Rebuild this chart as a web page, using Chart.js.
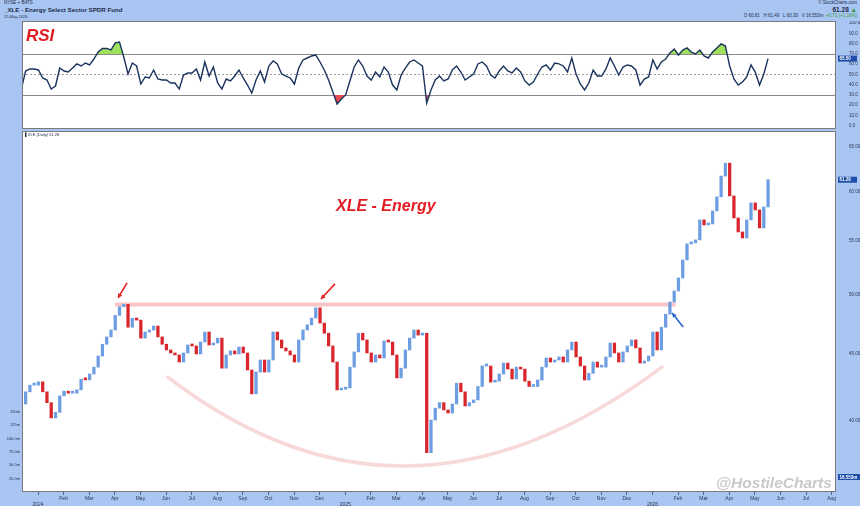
<!DOCTYPE html>
<html>
<head>
<meta charset="utf-8">
<script src="https://cdn.jsdelivr.net/npm/chart.js@4.4.1/dist/chart.umd.min.js"></script>
<style>
  html, body { margin: 0; padding: 0; }
  body { width: 860px; height: 506px; background: #a9c6f3; position: relative; overflow: hidden;
         font-family: "Liberation Sans", Arial, sans-serif; }
  canvas { position: absolute; left: 0; }
  #rsi { top: 21px; }
  #price { top: 131px; }
  .t { position: absolute; white-space: nowrap; color: #1d2b47; line-height: 1; }
  .note { position: absolute; white-space: nowrap; font-weight: bold; font-style: italic; line-height: 1; }
</style>
</head>
<body>
<div class="t" style="left:4px;top:1px;font-size:4.5px;">NYSE + BATS</div>
<div class="t" style="left:4px;top:7px;font-size:6.2px;font-weight:bold;">_XLE - Energy Select Sector SPDR Fund</div>
<div class="t" style="left:4px;top:14.5px;font-size:4px;">15-May-2026</div>
<div class="t" style="right:3px;top:1px;font-size:4.5px;">© StockCharts.com</div>
<div class="t" style="right:3px;top:6.5px;font-size:6.5px;font-weight:bold;">61.28 <span style="color:#2e9a3a">▲</span></div>
<div class="t" style="right:3px;top:14px;font-size:4.5px;">O 60.81 &nbsp; H 61.49 &nbsp; L 60.30 &nbsp; V 16.553m &nbsp;<span style="color:#2e9a3a">+0.71 (+1.16%)</span></div>

<canvas id="rsi" width="860" height="108"></canvas>
<canvas id="price" width="860" height="375"></canvas>

<div class="note" style="left:26px;top:27px;font-size:17px;color:#e31b23;">RSI</div>
<div class="note" style="left:336px;top:198px;font-size:16px;color:#e31b23;">XLE - Energy</div>
<div class="note" style="left:716px;top:475px;font-size:15.5px;color:#c9c9c9;">@HostileCharts</div>
<div class="t" style="left:25px;top:133px;font-size:4px;">▌XLE (Daily) 61.28</div>
<div id="volLabels"></div>

<script>
// ---- data ----
// bar positions run in month units (0 = Jan 2024), one bar every 1/6 month
const barStart = -0.65;
const barStep = 1 / 6;

const closes = [
  41.2, 42.1, 42.6, 42.6, 42.85, 42.1, 41.3, 40.2, 40.6, 41.8,
  42.15, 42.0, 42.0, 42.25, 43.05, 43.0, 43.45, 43.98, 44.85, 45.8,
  46.4, 46.97, 48.2, 48.95, 49.15, 47.2, 47.95, 47.8, 46.3, 46.8,
  46.97, 47.3, 46.4, 45.8, 45.34, 45.1, 44.94, 44.38, 45.1, 45.74,
  45.66, 45.02, 45.98, 46.8, 45.74, 45.9, 46.3, 43.9, 44.94, 45.26,
  45.02, 45.58, 45.1, 43.76, 41.95, 43.6, 44.54, 43.6, 44.54, 46.8,
  46.15, 45.5, 45.26, 44.94, 44.38, 46.15, 46.97, 47.4, 47.97, 48.85,
  47.55, 46.7, 45.66, 44.38, 42.24, 42.3, 42.4, 43.98, 45.18, 46.7,
  46.15, 45.1, 44.38, 44.94, 44.7, 46.07, 45.98, 44.94, 43.15, 43.9,
  45.34, 46.3, 46.97, 46.55, 46.7, 37.8, 40.05, 40.9, 41.3, 40.77,
  40.55, 41.2, 42.75, 42.1, 41.06, 41.3, 41.5, 42.5, 44.07, 44.07,
  42.83, 42.9, 43.45, 44.3, 43.83, 43.07, 43.98, 43.83, 42.9, 42.5,
  42.5, 42.99, 43.98, 44.7, 44.38, 44.54, 44.78, 44.38, 45.34, 45.98,
  44.78, 44.07, 42.99, 43.5, 44.38, 43.98, 43.98, 44.78, 45.9, 45.1,
  44.38, 45.18, 45.66, 46.15, 45.5, 44.3, 44.46, 44.86, 46.8, 45.34,
  47.2, 48.3, 49.35, 50.33, 51.5, 53.17, 54.7, 54.8, 55.09, 57.07,
  56.57, 56.67, 57.99, 59.45, 61.68, 63.1, 59.55, 57.27, 55.87, 55.28,
  57.07, 58.82, 58.09, 56.27, 58.4, 61.28
];

const rsi = [
  35.8, 53.4, 55.4, 55.4, 54.4, 46.6, 44.6, 35.8, 38.8, 56.3,
  53.4, 52.4, 56.3, 60.3, 58.3, 61.2, 59.3, 65.1, 72.0, 75.4,
  75.4, 73.9, 80.8, 81.7, 67.1, 50.5, 61.2, 58.3, 40.7, 47.6,
  46.6, 54.4, 45.6, 44.6, 44.6, 41.7, 41.7, 35.8, 49.5, 51.5,
  51.5, 55.4, 44.6, 62.2, 48.5, 57.3, 41.7, 35.8, 45.6, 43.7,
  48.5, 54.4, 46.6, 39.7, 31.9, 44.6, 53.4, 42.7, 58.3, 63.2,
  60.3, 50.5, 48.5, 46.6, 40.7, 56.3, 64.2, 66.1, 68.1, 69.0,
  62.2, 54.4, 44.6, 32.9, 21.2, 26.1, 30.0, 43.7, 57.3, 64.2,
  58.3, 48.5, 44.6, 52.4, 47.6, 57.3, 52.4, 39.7, 34.9, 49.5,
  56.3, 62.2, 64.2, 61.2, 58.3, 22.2, 34.9, 44.6, 48.5, 43.7,
  45.6, 54.4, 58.3, 52.4, 44.6, 47.6, 50.5, 60.3, 62.2, 58.3,
  49.5, 46.6, 53.4, 58.3, 53.4, 51.5, 56.3, 52.4, 43.7, 39.7,
  42.7, 50.5, 57.3, 59.3, 54.4, 61.2, 60.3, 58.3, 52.4, 66.1,
  50.5, 40.7, 34.9, 41.7, 54.4, 48.5, 48.5, 55.4, 66.1, 58.3,
  49.5, 57.3, 59.3, 58.3, 54.4, 39.7, 45.6, 47.6, 64.2, 55.4,
  62.2, 65.1, 71.0, 74.9, 69.0, 73.9, 75.9, 71.9, 70.0, 73.9,
  68.1, 66.1, 71.9, 75.9, 79.8, 77.8, 58.3, 45.6, 39.7, 42.7,
  47.6, 59.3, 52.4, 39.7, 50.5, 65.5
];

const monthLabels = ['2024', 'Feb', 'Mar', 'Apr', 'May', 'Jun', 'Jul', 'Aug', 'Sep', 'Oct', 'Nov', 'Dec',
  '2025', 'Feb', 'Mar', 'Apr', 'May', 'Jun', 'Jul', 'Aug', 'Sep', 'Oct', 'Nov', 'Dec',
  '2026', 'Feb', 'Mar', 'Apr', 'May', 'Jun', 'Jul', 'Aug'];
const priceTicks = [40, 45, 50, 55, 60, 65];
const rsiTicks = [0, 10, 20, 30, 40, 50, 60, 70, 80, 90, 100];
const volumeLabels = ['150m', '125m', '100.0m', '75.0m', '50.0m', '25.0m'];
const lastVolume = '16.553m';

// annotation anchors, in (month, price)
const resistance = { from: 3.0, to: 24.9, price: 49.14 };
const cupArc = { start: [5.08, 43.2], ctrl: [14.34, 31.27], end: [24.375, 44.0] };
const redArrows = [[[3.48, 51.05], [3.125, 49.71]], [[11.6, 50.96], [11.05, 49.62]]];
const blueArrow = [[25.2, 47.22], [24.77, 48.41]];

const xMin = -0.625, xMax = 31.17;
const UP = '#6d9de2', DOWN = '#d8262c';

// left-margin volume labels
const volBox = document.getElementById('volLabels');
volumeLabels.forEach((lbl, i) => {
  const d = document.createElement('div');
  d.className = 't';
  d.style.cssText = `right:${860 - 20}px;top:${410 + i * 13.3}px;font-size:4px;color:#24324f;`;
  d.textContent = lbl;
  volBox.appendChild(d);
});

const rsiPts = rsi.map((v, i) => ({ x: barStart + i * barStep, y: v }));
const barPts = closes.map((c, i) => ({ x: barStart + i * barStep, y: [i === 0 ? c : closes[i - 1], c] }));
const barColors = closes.map((c, i) => (i > 0 && c < closes[i - 1]) ? DOWN : UP);

// keep the plot area exactly where the panel is: no label overhang padding
const noPad = s => { s.paddingTop = 0; s.paddingBottom = 0; s.paddingLeft = 0; s.paddingRight = 0; };

// white plot panels with a grey frame
const panelBg = {
  id: 'panelBg',
  beforeDraw(chart) {
    const { ctx, chartArea: a } = chart;
    ctx.save();
    ctx.fillStyle = '#fff';
    ctx.fillRect(a.left, a.top, a.right - a.left, a.bottom - a.top);
    ctx.restore();
  },
  afterDraw(chart) {
    const { ctx, chartArea: a } = chart;
    ctx.save();
    ctx.strokeStyle = '#7a7a7a';
    ctx.lineWidth = 1;
    ctx.strokeRect(a.left + 0.5, a.top + 0.5, a.right - a.left - 1, a.bottom - a.top - 1);
    ctx.restore();
  }
};

const valueTag = (ctx, x, y, text, w) => {
  ctx.save();
  ctx.fillStyle = '#1f4fa8';
  ctx.fillRect(x, y - 3, w, 6);
  ctx.fillStyle = '#fff';
  ctx.font = 'bold 4.5px "Liberation Sans", Arial';
  ctx.textBaseline = 'middle';
  ctx.fillText(text, x + 1.5, y + 0.3);
  ctx.restore();
};

const rsiLines = {
  id: 'rsiLines',
  beforeDatasetsDraw(chart) {
    const { ctx, chartArea: a, scales: { y } } = chart;
    ctx.save();
    ctx.lineWidth = 1;
    [70, 30].forEach(v => {
      const py = Math.round(y.getPixelForValue(v)) + 0.5;
      ctx.strokeStyle = '#8a8a8a';
      ctx.beginPath(); ctx.moveTo(a.left, py); ctx.lineTo(a.right, py); ctx.stroke();
    });
    const p50 = Math.round(y.getPixelForValue(50)) + 0.5;
    ctx.setLineDash([2, 2]);
    ctx.strokeStyle = '#9a9a9a';
    ctx.beginPath(); ctx.moveTo(a.left, p50); ctx.lineTo(a.right, p50); ctx.stroke();
    ctx.restore();
  },
  afterDraw(chart) {
    const { ctx, chartArea: a, scales: { y } } = chart;
    const last = rsi[rsi.length - 1];
    valueTag(ctx, a.right + 2, y.getPixelForValue(last), last.toFixed(2), 19);
  }
};

const arrow = (ctx, x1, y1, x2, y2, color) => {
  ctx.strokeStyle = color;
  ctx.fillStyle = color;
  ctx.lineWidth = 1.6;
  ctx.beginPath(); ctx.moveTo(x1, y1); ctx.lineTo(x2, y2); ctx.stroke();
  const ang = Math.atan2(y2 - y1, x2 - x1), h = 5;
  ctx.beginPath();
  ctx.moveTo(x2, y2);
  ctx.lineTo(x2 - h * Math.cos(ang - 0.5), y2 - h * Math.sin(ang - 0.5));
  ctx.lineTo(x2 - h * Math.cos(ang + 0.5), y2 - h * Math.sin(ang + 0.5));
  ctx.closePath();
  ctx.fill();
};

const priceNotes = {
  id: 'priceNotes',
  beforeDatasetsDraw(chart) {
    const { ctx, scales: { x, y } } = chart;
    const px = p => [x.getPixelForValue(p[0]), y.getPixelForValue(p[1])];
    ctx.save();
    // resistance band
    ctx.strokeStyle = 'rgba(243, 160, 160, 0.6)';
    ctx.lineWidth = 4;
    const ry = y.getPixelForValue(resistance.price);
    ctx.beginPath();
    ctx.moveTo(x.getPixelForValue(resistance.from), ry);
    ctx.lineTo(x.getPixelForValue(resistance.to), ry);
    ctx.stroke();
    // cup arc
    const s = px(cupArc.start), c = px(cupArc.ctrl), e = px(cupArc.end);
    ctx.strokeStyle = 'rgba(240, 170, 170, 0.45)';
    ctx.lineWidth = 3.5;
    ctx.lineCap = 'round';
    ctx.beginPath();
    ctx.moveTo(s[0], s[1]);
    ctx.quadraticCurveTo(c[0], c[1], e[0], e[1]);
    ctx.stroke();
    ctx.restore();
  },
  afterDatasetsDraw(chart) {
    const { ctx, scales: { x, y } } = chart;
    const px = p => [x.getPixelForValue(p[0]), y.getPixelForValue(p[1])];
    ctx.save();
    redArrows.forEach(([t, h]) => {
      const a = px(t), b = px(h);
      arrow(ctx, a[0], a[1], b[0], b[1], '#e2231f');
    });
    const a = px(blueArrow[0]), b = px(blueArrow[1]);
    arrow(ctx, a[0], a[1], b[0], b[1], '#2d68c8');
    ctx.restore();
  },
  afterDraw(chart) {
    const { ctx, chartArea: ca, scales: { y } } = chart;
    const last = closes[closes.length - 1];
    valueTag(ctx, ca.right + 2, y.getPixelForValue(last), last.toFixed(2), 19);
    valueTag(ctx, ca.right + 2, ca.bottom - 15, lastVolume, 22);
  }
};

const tinyFont = { size: 4.5, family: '"Liberation Sans", Arial' };

new Chart(document.getElementById('rsi'), {
  type: 'line',
  data: {
    datasets: [
      {
        data: rsiPts, borderColor: '#1a335e', borderWidth: 1.4, pointRadius: 0, pointHoverRadius: 0,
        tension: 0, order: 1,
        fill: { target: { value: 70 }, above: '#9fe05c', below: 'rgba(0,0,0,0)' }
      },
      {
        data: rsiPts, borderWidth: 0, borderColor: 'rgba(0,0,0,0)', pointRadius: 0, pointHoverRadius: 0,
        tension: 0, order: 2,
        fill: { target: { value: 30 }, above: 'rgba(0,0,0,0)', below: '#e64b55' }
      }
    ]
  },
  options: {
    responsive: false,
    animation: false,
    layout: { autoPadding: false, padding: { left: 22, top: 0, right: 0, bottom: 0 } },
    plugins: { legend: { display: false }, tooltip: { enabled: false } },
    scales: {
      x: { type: 'linear', min: xMin, max: xMax, bounds: 'data', display: false },
      y: {
        type: 'linear', position: 'right', min: -3.2, max: 102.2, bounds: 'data',
        afterBuildTicks: s => { s.ticks = rsiTicks.map(v => ({ value: v })); },
        afterFit: s => { s.width = 24; noPad(s); },
        grid: { display: false },
        border: { display: false },
        ticks: { font: tinyFont, color: '#2a3550', padding: 5, callback: v => Number(v).toFixed(1) }
      }
    }
  },
  plugins: [panelBg, rsiLines]
});

new Chart(document.getElementById('price'), {
  type: 'bar',
  data: {
    datasets: [{
      data: barPts, backgroundColor: barColors, barThickness: 2.6, minBarLength: 2, borderWidth: 0
    }]
  },
  options: {
    responsive: false,
    animation: false,
    layout: { autoPadding: false, padding: { left: 22, top: 0, right: 0, bottom: 0 } },
    plugins: { legend: { display: false }, tooltip: { enabled: false } },
    scales: {
      x: {
        type: 'linear', min: xMin, max: xMax, bounds: 'data', offset: false,
        afterBuildTicks: s => { s.ticks = monthLabels.map((_, i) => ({ value: i })); },
        afterFit: s => { s.height = 14; noPad(s); },
        grid: { display: true, drawOnChartArea: false, tickLength: 3, color: '#55657f', offset: false },
        border: { display: false },
        ticks: {
          font: { size: 5, family: '"Liberation Sans", Arial', lineHeight: 1.1 },
          color: '#2a3550', padding: 1, maxRotation: 0, autoSkip: false,
          callback: v => {
            const lbl = monthLabels[Math.round(v)];
            return /^\d{4}$/.test(lbl) ? ['', lbl] : lbl;
          }
        }
      },
      y: {
        type: 'logarithmic', position: 'right', min: 35.26, max: 66.8, bounds: 'data',
        afterBuildTicks: s => { s.ticks = priceTicks.map(v => ({ value: v })); },
        afterFit: s => { s.width = 24; noPad(s); },
        grid: { display: false },
        border: { display: false },
        ticks: { font: tinyFont, color: '#2a3550', padding: 5, callback: v => Number(v).toFixed(2) }
      }
    }
  },
  plugins: [panelBg, priceNotes]
});
</script>
</body>
</html>
